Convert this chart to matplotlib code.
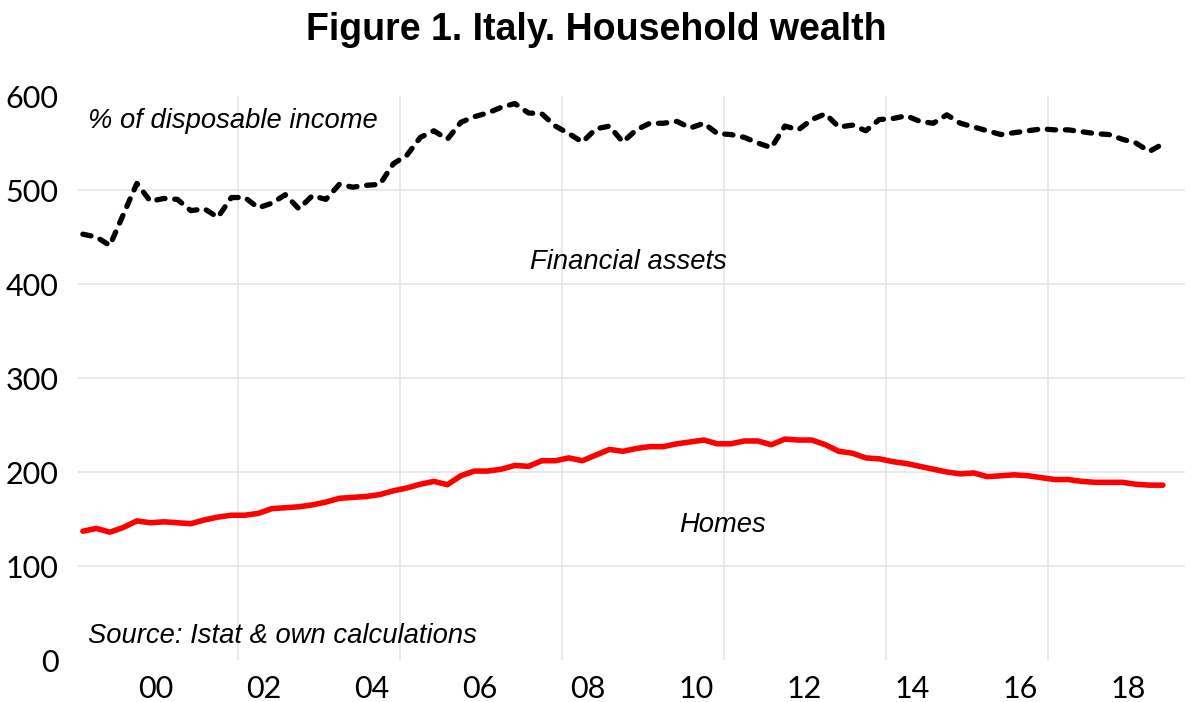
import numpy as np
import matplotlib.pyplot as plt

plt.rcParams['lines.scale_dashes'] = False

# quarterly data, 1998Q4 - 2018Q4, % of disposable income
first_quarter = 1998.75
financial_assets = [453, 450, 441, 474, 507, 488, 491, 490, 478, 480,
                    471, 492, 492, 481, 486, 495, 480, 494, 490, 506,
                    503, 505, 506, 528, 537, 556, 563, 554, 572, 578,
                    582, 588, 592, 582, 581, 568, 560, 551, 565, 568,
                    551, 564, 571, 571, 573, 566, 571, 560, 559, 556,
                    550, 545, 568, 564, 575, 581, 567, 569, 563, 575,
                    576, 579, 573, 571, 580, 571, 567, 563, 559, 561,
                    563, 565, 564, 564, 562, 560, 559, 554, 550, 541,
                    549]
homes = [137, 140, 136, 141, 148, 146, 147, 146, 145, 149,
         152, 154, 154, 156, 161, 162, 163, 165, 168, 172,
         173, 174, 176, 180, 183, 187, 190, 186.5, 196, 201,
         201, 203, 207, 206, 212, 212, 215, 212, 218, 224,
         222, 225, 227, 227, 230, 232, 234, 230, 230, 233,
         233, 229, 235, 234, 234, 229, 222, 220, 215, 214,
         211, 209, 206, 203, 200, 198, 199, 195, 196, 197,
         196, 194, 192, 192, 190, 189, 189, 189, 187, 186,
         186]
x_labels = ['00', '02', '04', '06', '08', '10', '12', '14', '16', '18']
y_ticks = [0, 100, 200, 300, 400, 500, 600]

quarters = first_quarter + 0.25 * np.arange(len(homes))
label_pos = 2000.1 + 2 * np.arange(len(x_labels))
vgrid_pos = 2001.625 + 3 * np.arange(6)

fig = plt.figure(figsize=(11.92, 7.02), dpi=100)
ax = fig.add_axes([78 / 1192, 42 / 702, 1107 / 1192, 564 / 702])

for v in y_ticks[1:-1]:
    ax.axhline(v, color='#e3e3e3', lw=1.1, zorder=0)
for v in vgrid_pos:
    ax.axvline(v, color='#e3e3e3', lw=1.1, zorder=0)

ax.plot(quarters, financial_assets, color='black', lw=3.8,
        dashes=(6, 7), dash_capstyle='round', solid_capstyle='round')
ax.plot(quarters, homes, color='#ff0000', lw=4.0, solid_capstyle='round')

ax.set_xlim(1998.66, 2019.16)
ax.set_ylim(0, 600)
for s in ax.spines.values():
    s.set_visible(False)
ax.tick_params(length=0)
ax.set_yticks(y_ticks)
ax.set_yticklabels([str(v) for v in y_ticks], family='Lato', fontsize=22)
ax.set_xticks(label_pos)
ax.set_xticklabels(x_labels, family='Lato', fontsize=22)
ax.tick_params(axis='y', pad=14)
ax.tick_params(axis='x', pad=11)

txt = dict(family='Liberation Sans', style='italic', fontsize=19.7)
ax.text(1998.84, 573, '% of disposable income', va='center', ha='left', **txt)
ax.text(2008.85, 423, 'Financial assets', va='center', ha='center', **txt)
ax.text(2010.6, 144, 'Homes', va='center', ha='center', **txt)
ax.text(1998.84, 26, 'Source: Istat & own calculations', va='center', ha='left', **txt)

fig.text(0.5, 1 - 30 / 702, 'Figure 1. Italy. Household wealth', ha='center', va='center',
         family='Liberation Sans', weight='bold', fontsize=27)

fig.savefig('out.png', dpi=100)
